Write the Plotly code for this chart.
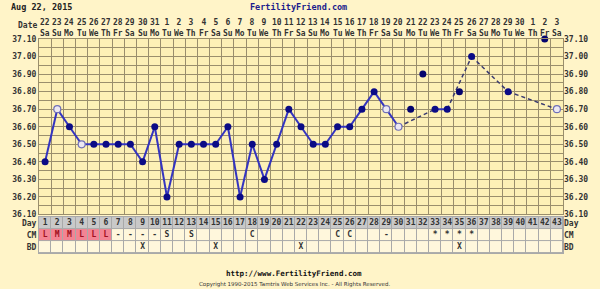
import plotly.graph_objects as go

# ---------------- data ----------------
days = list(range(1, 44))
dates = [22, 23, 24, 25, 26, 27, 28, 29, 30, 31] + list(range(1, 31)) + [1, 2, 3]
dows = ["Sa", "Su", "Mo", "Tu", "We", "Th", "Fr"]
day_names = [dows[i % 7] for i in range(43)]

temps = [36.40, 36.70, 36.60, 36.50, 36.50, 36.50, 36.50, 36.50, 36.40, 36.60,
         36.20, 36.50, 36.50, 36.50, 36.50, 36.60, 36.20, 36.50, 36.30, 36.50,
         36.70, 36.60, 36.50, 36.50, 36.60, 36.60, 36.70, 36.80, 36.70, 36.60,
         36.70, 36.90, 36.70, 36.70, 36.80, 37.00, None, None, 36.80, None,
         None, 37.10, 36.70]
open_days = [2, 4, 29, 30, 43]
discarded_days = [31, 32, 35, 42]

cm_days = [1, 2, 3, 4, 5, 6, 7, 8, 9, 10, 11, 13, 18, 25, 26, 29, 33, 34, 35, 36]
cm_values = ["L", "M", "M", "L", "L", "L", "-", "-", "-", "-", "S", "S", "C", "C", "C", "-",
             "*", "*", "*", "*"]
bd_days = [9, 15, 22, 35]
bd_values = ["X", "X", "X", "X"]

y_ticks = [36.10, 36.20, 36.30, 36.40, 36.50, 36.60, 36.70, 36.80, 36.90, 37.00, 37.10]

# ---------------- styles ----------------
PAPER = "#FFF4C8"
PLOT = "#FDF0B6"
GRID = "#9A8E6C"
BORDER = "#A9A9A9"
LINE = "#3434C0"
DOT = "#0B0B86"
DISC = "#05056E"
MONO = "DejaVu Sans Mono"
TXT = "#333333"

temp_of = dict(zip(days, temps))

fig = go.Figure()

# line through accepted temps: solid for consecutive days, dashed across gaps
line_days = [d for d in days if temp_of[d] is not None and d not in discarded_days]
sx, sy, dx, dy = [], [], [], []
for a, b in zip(line_days[:-1], line_days[1:]):
    if b - a == 1:
        sx += [a, b, None]; sy += [temp_of[a], temp_of[b], None]
    else:
        dx += [a, b, None]; dy += [temp_of[a], temp_of[b], None]

fig.add_trace(go.Scatter(x=dx, y=dy, mode="lines", line=dict(color="#3A3A70", width=1.5, dash="4px,3px"),
                         hoverinfo="skip", xaxis="x", yaxis="y", cliponaxis=False))
fig.add_trace(go.Scatter(x=sx, y=sy, mode="lines", line=dict(color=LINE, width=2),
                         hoverinfo="skip", xaxis="x", yaxis="y", cliponaxis=False))

filled = [d for d in days if temp_of[d] is not None and d not in open_days and d not in discarded_days]
fig.add_trace(go.Scatter(x=filled, y=[temp_of[d] for d in filled], mode="markers",
                         marker=dict(color=DOT, size=7, line=dict(width=0)),
                         xaxis="x", yaxis="y", cliponaxis=False))
fig.add_trace(go.Scatter(x=open_days, y=[temp_of[d] for d in open_days], mode="markers",
                         marker=dict(color="#ECE8F2", size=7, line=dict(color="#7070B8", width=1.2)),
                         xaxis="x", yaxis="y", cliponaxis=False))
fig.add_trace(go.Scatter(x=discarded_days, y=[temp_of[d] for d in discarded_days], mode="markers",
                         marker=dict(color=DISC, size=7, line=dict(width=0)),
                         xaxis="x", yaxis="y", cliponaxis=False))

# ---------------- table (Day / CM / BD) ----------------
cm_of = dict(zip(cm_days, cm_values))
bd_of = dict(zip(bd_days, bd_values))
z = [
    [0 for d in days],                                              # BD row
    [1 if cm_of.get(d) in ("L", "M", "H") else 0 for d in days],    # CM row
    [2 for d in days],                                              # Day row
]
fig.add_trace(go.Heatmap(x=days, y=[0, 1, 2], z=z, zmin=0, zmax=2, showscale=False,
                         colorscale=[[0, "#FFF7DC"], [0.33, "#FFF7DC"], [0.34, "#F38493"],
                                     [0.66, "#F38493"], [0.67, "#C9C9C9"], [1, "#C9C9C9"]],
                         xgap=1, ygap=1, hoverinfo="skip", xaxis="x2", yaxis="y2"))

tx = days + cm_days + bd_days
ty = [2] * len(days) + [1] * len(cm_days) + [0] * len(bd_days)
tt = [str(d) for d in days] + cm_values + bd_values
tc = [TXT] * len(days) + ["#A01020" if v in ("L", "M", "H") else TXT for v in cm_values] + [TXT] * len(bd_days)
fig.add_trace(go.Scatter(x=tx, y=ty, mode="text", text=tt,
                         textfont=dict(family=MONO, size=8, color=tc, weight="bold"),
                         hoverinfo="skip", xaxis="x2", yaxis="y2"))

# ---------------- layout ----------------
axis_font = dict(family=MONO, size=8, color=TXT, weight="bold")
fig.update_layout(
    width=600, height=289,
    margin=dict(l=32, r=32, t=39, b=36),
    paper_bgcolor=PAPER, plot_bgcolor=BORDER,
    showlegend=False,
    xaxis=dict(domain=[0, 1], range=[0.5, 43.5], tick0=0.5, dtick=1, showgrid=True, gridcolor=GRID,
               gridwidth=1, showticklabels=False, zeroline=False, anchor="y",
               showline=True, linecolor=GRID, mirror=True, ticks=""),
    yaxis=dict(domain=[0.18, 1], range=[36.10, 37.10], tickvals=y_ticks,
               ticktext=["%.2f" % v for v in y_ticks], tickfont=axis_font,
               showgrid=True, gridcolor=GRID, gridwidth=1, zeroline=False, ticks="",
               minor=dict(dtick=0.05, tick0=36.10, showgrid=True, gridcolor=GRID, gridwidth=1),
               showline=True, linecolor=GRID, mirror=True, anchor="x"),
    yaxis3=dict(overlaying="y", side="right", range=[36.10, 37.10], tickvals=y_ticks,
                ticktext=["%.2f" % v for v in y_ticks], tickfont=axis_font, showgrid=False,
                zeroline=False, ticks="", anchor="x"),
    xaxis2=dict(domain=[0, 1], range=[0.5, 43.5], showgrid=False, showticklabels=False,
                zeroline=False, anchor="y2", ticks="", showline=True, linecolor=BORDER, mirror=True),
    yaxis2=dict(domain=[0, 0.168], range=[-0.5, 2.5], tickvals=[0, 1, 2], ticktext=["BD", "CM", "Day"],
                tickfont=axis_font, showgrid=False, zeroline=False, ticks="", anchor="x2",
                showline=True, linecolor=BORDER, mirror=True),
    yaxis4=dict(overlaying="y2", side="right", range=[-0.5, 2.5], tickvals=[0, 1, 2],
                ticktext=["BD", "CM", "Day"], tickfont=axis_font, showgrid=False, zeroline=False,
                ticks="", anchor="x2"),
)
# invisible traces to activate right axes
fig.add_trace(go.Scatter(x=[None], y=[None], xaxis="x", yaxis="y3", hoverinfo="skip"))
fig.add_trace(go.Scatter(x=[None], y=[None], xaxis="x2", yaxis="y4", hoverinfo="skip"))

# cream background for the temperature area (below grid lines)
fig.add_shape(type="rect", xref="x domain", yref="y domain", x0=0, x1=1, y0=0, y1=1,
              fillcolor=PLOT, line=dict(width=0), layer="below")

# top date row: date number over weekday
for d, dt, nm in zip(days, dates, day_names):
    fig.add_annotation(x=d, xref="x", y=1, yref="paper", yanchor="middle", yshift=39 - 27.5,
                       text="%d<br>%s" % (dt, nm), showarrow=False, font=axis_font,
                       borderpad=0, height=20)
fig.add_annotation(x=0, xref="paper", xanchor="right", xshift=-1, y=1, yref="paper",
                   yanchor="middle", yshift=39 - 25.5, text="Date", showarrow=False, font=axis_font,
                   borderpad=0)

# header
fig.add_annotation(x=0, xref="paper", xanchor="left", xshift=-30, y=1, yref="paper", yanchor="middle",
                   yshift=39 - 7, text="Aug 22, 2015", showarrow=False,
                   font=dict(family=MONO, size=8.5, color="#222222", weight="bold"))
fig.add_annotation(x=0.5, xref="paper", xanchor="center", xshift=-3, y=1, yref="paper", yanchor="middle",
                   yshift=39 - 7, text="FertilityFriend.com", showarrow=False,
                   font=dict(family=MONO, size=8.5, color="#1C1C8C", weight="bold"))
# footer
fig.add_annotation(x=0.5, xref="paper", xanchor="center", xshift=-7, y=0, yref="paper", yanchor="middle",
                   yshift=-(273 - 253), text="http://www.FertilityFriend.com", showarrow=False,
                   font=dict(family=MONO, size=7.5, color="#111111", weight="bold"))
fig.add_annotation(x=0.5, xref="paper", xanchor="center", xshift=-7, y=0, yref="paper", yanchor="middle",
                   yshift=-(284 - 253), text="Copyright 1990-2015 Tamtris Web Services Inc. - All Rights Reserved.",
                   showarrow=False, font=dict(family="DejaVu Sans", size=5.5, color="#333333"))

fig.write_html("out.html")
